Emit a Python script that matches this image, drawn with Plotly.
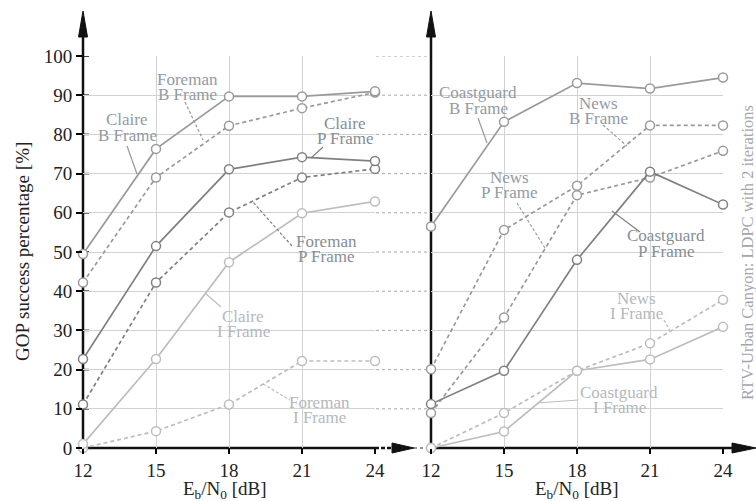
import plotly.graph_objects as go

# ---------------- data ----------------
snr = [12, 15, 18, 21, 24]
x_ticks = [12, 15, 18, 21, 24]
y_ticks = [0, 10, 20, 30, 40, 50, 60, 70, 80, 90, 100]

claire_b = [49.5, 76.3, 89.7, 89.7, 91.0]
foreman_b = [42.2, 69.0, 82.2, 86.7, 90.7]
claire_p = [22.7, 51.5, 71.1, 74.2, 73.2]
foreman_p = [11.1, 42.2, 60.1, 69.0, 71.2]
claire_i = [1.0, 22.7, 47.4, 59.9, 62.9]
foreman_i = [0.0, 4.3, 11.1, 22.2, 22.2]

coast_b = [56.5, 83.2, 93.1, 91.7, 94.5]
news_b = [20.1, 55.6, 66.9, 82.3, 82.3]
coast_p = [11.2, 19.7, 48.0, 70.5, 62.1]
news_p = [8.9, 33.3, 64.5, 69.0, 75.8]
news_i = [0.0, 8.9, 19.7, 26.7, 37.8]
coast_i = [0.0, 4.2, 19.7, 22.6, 30.9]

# ---------------- geometry (pixels) ----------------
W, H = 756, 501
L, R, T, B = 83, 723, 56, 448


def px(x):
    return (x - L) / (R - L)


def py(y):
    return (B - y) / (B - T)


FONT = "Liberation Serif"
C_B = "#9a9a9a"
C_P = "#808080"
C_I = "#bdbdbd"

fig = go.Figure()


def add(xs, ys, color, dash, xa, ya):
    fig.add_trace(go.Scatter(
        x=xs, y=ys, mode="lines+markers", xaxis=xa, yaxis=ya,
        line=dict(color=color, width=1.7, dash=dash),
        marker=dict(symbol="circle", size=9, color="white",
                    line=dict(color=color, width=1.5)),
        cliponaxis=False, showlegend=False, hoverinfo="skip"))


DASH = "4px,3px"
add(snr, foreman_i, C_I, DASH, "x", "y")
add(snr, claire_i, C_I, "solid", "x", "y")
add(snr, foreman_p, C_P, DASH, "x", "y")
add(snr, claire_p, C_P, "solid", "x", "y")
add(snr, foreman_b, C_B, DASH, "x", "y")
add(snr, claire_b, C_B, "solid", "x", "y")

add(snr, coast_i, C_I, "solid", "x2", "y2")
add(snr, news_i, C_I, DASH, "x2", "y2")
add(snr, news_p, C_B, DASH, "x2", "y2")
add(snr, coast_p, C_P, "solid", "x2", "y2")
add(snr, news_b, C_B, DASH, "x2", "y2")
add(snr, coast_b, C_B, "solid", "x2", "y2")

d1 = [0, px(375)]
d2 = [px(431), 1]
axis_common = dict(range=[12, 24], tickvals=x_ticks, showgrid=True,
                   gridcolor="#d2d2d2", gridwidth=1, zeroline=False,
                   showline=False, ticks="outside", ticklen=5,
                   tickcolor="black", tickwidth=1.5,
                   tickfont=dict(family=FONT, size=19, color="#222"))
yaxis_common = dict(range=[0, 100], tickvals=y_ticks, showgrid=True,
                    gridcolor="#d2d2d2", gridwidth=1, zeroline=False,
                    showline=False)

fig.update_layout(
    width=W, height=H,
    margin=dict(l=L, r=W - R, t=T, b=H - B, pad=0),
    paper_bgcolor="white", plot_bgcolor="white",
    xaxis=dict(domain=d1, anchor="y", **axis_common),
    xaxis2=dict(domain=d2, anchor="y2", **axis_common),
    yaxis=dict(domain=[0, 1], anchor="x", ticks="outside", ticklen=6,
               tickcolor="black", tickwidth=1.5,
               tickfont=dict(family=FONT, size=19, color="#222"),
               **yaxis_common),
    yaxis2=dict(domain=[0, 1], anchor="x2", showticklabels=False,
                **yaxis_common),
)

shapes = []
# dotted connectors between panels
for yv in y_ticks[1:]:
    shapes.append(dict(type="line", xref="paper", yref="y",
                       x0=px(376), x1=px(430), y0=yv, y1=yv,
                       line=dict(color="#a8a8a8", width=1, dash="dot"),
                       layer="between"))
# inner halves of y ticks (cross marks)
for yv in y_ticks:
    shapes.append(dict(type="line", xref="paper", yref="y",
                       x0=px(83), x1=px(89), y0=yv, y1=yv,
                       line=dict(color="black", width=1.5), layer="between"))

# axes lines
for xa in (83, 431):
    shapes.append(dict(type="line", xref="paper", yref="paper",
                       x0=px(xa), x1=px(xa), y0=py(448), y1=py(30),
                       line=dict(color="#111", width=2.5), layer="between"))
    shapes.append(dict(type="path", xref="paper", yref="paper",
                       path=f"M {px(xa-4.5)} {py(37)} L {px(xa)} {py(11)} L {px(xa+4.5)} {py(37)} Z",
                       fillcolor="#111", line=dict(color="#111", width=1)))
# x axes
shapes.append(dict(type="line", xref="paper", yref="paper",
                   x0=px(83), x1=px(375), y0=0, y1=0,
                   line=dict(color="#111", width=2.5), layer="between"))
shapes.append(dict(type="line", xref="paper", yref="paper",
                   x0=px(375), x1=px(395), y0=0, y1=0,
                   line=dict(color="#111", width=2.5, dash="4px,2px"),
                   layer="between"))
shapes.append(dict(type="path", xref="paper", yref="paper",
                   path=f"M {px(392)} {py(443)} L {px(414)} {py(448)} L {px(392)} {py(453)} Z",
                   fillcolor="#111", line=dict(color="#111", width=1)))
shapes.append(dict(type="line", xref="paper", yref="paper",
                   x0=px(414), x1=px(428), y0=0, y1=0,
                   line=dict(color="#777", width=1.5, dash="dot"),
                   layer="between"))
shapes.append(dict(type="line", xref="paper", yref="paper",
                   x0=px(431), x1=px(735), y0=0, y1=0,
                   line=dict(color="#111", width=2.5), layer="between"))
shapes.append(dict(type="path", xref="paper", yref="paper",
                   path=f"M {px(732)} {py(443)} L {px(756)} {py(448)} L {px(732)} {py(453)} Z",
                   fillcolor="#111", line=dict(color="#111", width=1)))

# leader lines
leaders = [
    ((185, 102), (203, 140), "dash", C_B),   # Foreman B
    ((127, 146), (137, 174), "solid", C_B),  # Claire B
    ((323, 147), (311, 158), "solid", C_P),  # Claire P
    ((292, 246), (252, 201), "dash", C_P),   # Foreman P
    ((205, 293), (221, 307), "solid", C_I),  # Claire I
    ((263, 384), (290, 400), "dash", C_I),   # Foreman I
    ((478, 118), (487, 143), "solid", C_B),  # Coastguard B
    ((603, 125), (627, 146), "dash", C_B),   # News B
    ((517, 203), (545, 248), "dash", C_B),   # News P
    ((612, 211), (640, 232), "solid", C_P),  # Coastguard P
    ((664, 320), (670, 331), "dash", C_I),   # News I
    ((537, 403), (578, 400), "solid", C_I),  # Coastguard I
]
for (a, b, dsh, col) in leaders:
    shapes.append(dict(type="line", xref="paper", yref="paper",
                       x0=px(a[0]), y0=py(a[1]), x1=px(b[0]), y1=py(b[1]),
                       line=dict(color=col, width=1.2,
                                 dash="3px,2px" if dsh == "dash" else "solid")))
fig.update_layout(shapes=shapes)

LBL_D = "#878d96"
LBL_M = "#939aa3"
LBL_L = "#b4b8be"
labels = [
    ("Foreman", "B Frame", 187, 79, LBL_M),
    ("Claire", "B Frame", 127, 120, LBL_M),
    ("Claire", "P Frame", 345, 123, LBL_D),
    ("Foreman", "P Frame", 326, 241, LBL_D),
    ("Claire", "I Frame", 243, 316, LBL_L),
    ("Foreman", "I Frame", 319, 402, LBL_L),
    ("Coastguard", "B Frame", 478, 93, LBL_M),
    ("News", "B Frame", 598, 103, LBL_M),
    ("News", "P Frame", 509, 177, LBL_M),
    ("Coastguard", "P Frame", 666, 236, LBL_D),
    ("News", "I Frame", 636, 298, LBL_L),
    ("Coastguard", "I Frame", 619, 392, LBL_L),
]
ann = []
for l1, l2, x, y, col in labels:
    for k, t in enumerate((l1, l2)):
        ann.append(dict(text=t, xref="paper", yref="paper", x=px(x),
                        y=py(y + 15.5 * k),
                        xanchor="center", yanchor="middle", showarrow=False,
                        font=dict(family=FONT, size=17, color=col)))
ann.append(dict(text="RTV-Urban Canyon: LDPC with 2 iterations",
                xref="paper", yref="paper", x=px(747), y=py(253),
                xanchor="center", yanchor="middle", showarrow=False,
                textangle=-90, font=dict(family=FONT, size=16.5, color="#a3a7ad")))
ann.append(dict(text="GOP success percentage [%]",
                xref="paper", yref="paper", x=px(22), y=py(252),
                xanchor="center", yanchor="middle", showarrow=False,
                textangle=-90, font=dict(family=FONT, size=19, color="#222")))
for cx in (225, 577):
    ann.append(dict(text="E<sub>b</sub>/N<sub>0</sub> [dB]",
                    xref="paper", yref="paper", x=px(cx), y=py(490),
                    xanchor="center", yanchor="middle", showarrow=False,
                    font=dict(family=FONT, size=19, color="#222")))
fig.update_layout(annotations=ann)

fig.write_html("out.html", post_script="document.body.style.margin='0px';",
               config={"displayModeBar": False})
